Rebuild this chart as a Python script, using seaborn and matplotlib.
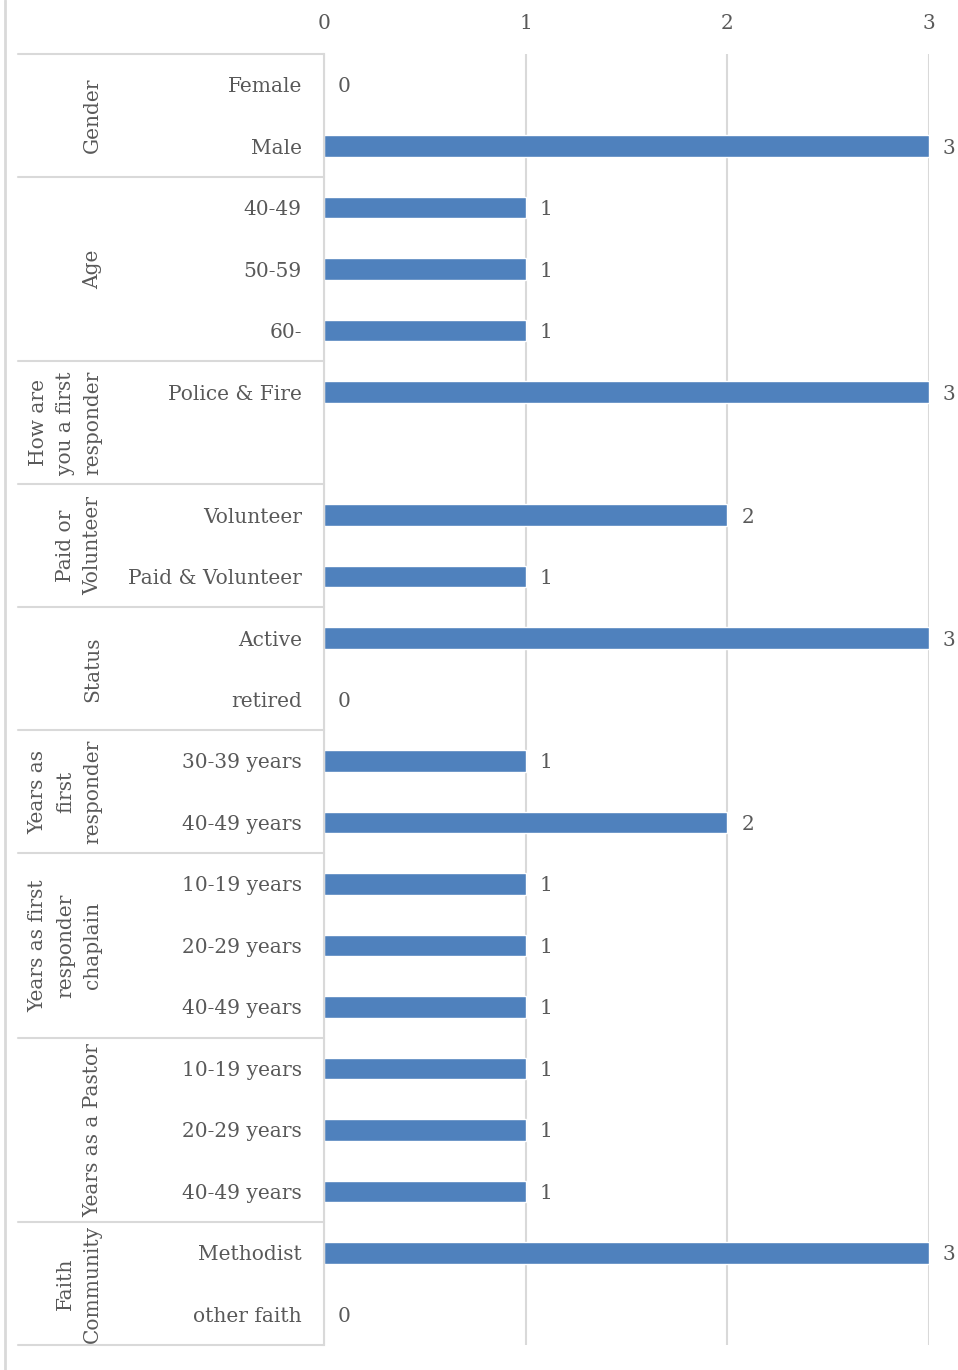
import matplotlib
matplotlib.use("Agg")
import matplotlib.pyplot as plt
from matplotlib.lines import Line2D
import seaborn as sns
import pandas as pd

# Survey profile of respondents
groups = ["Gender", "Age", "How are\nyou a first\nresponder", "Paid or\nVolunteer",
          "Status", "Years as\nfirst\nresponder", "Years as first\nresponder\nchaplain",
          "Years as a Pastor", "Faith\nCommunity"]
group_sizes = [2, 3, 2, 2, 2, 2, 3, 3, 2]
categories = ["Female", "Male", "40-49", "50-59", "60-", "Police & Fire", "",
              "Volunteer", "Paid & Volunteer", "Active", "retired",
              "30-39 years", "40-49 years", "10-19 years", "20-29 years", "40-49 years",
              "10-19 years", "20-29 years", "40-49 years", "Methodist", "other faith"]
counts = [0, 3, 1, 1, 1, 3, None, 2, 1, 3, 0, 1, 2, 1, 1, 1, 1, 1, 1, 3, 0]
x_ticks = [0, 1, 2, 3]

TEXT = "#595959"
GRID = "#D9D9D9"
BAR = "#4F81BD"
FS = 14.5

sns.set_theme(style="white")
plt.rcParams["font.family"] = ["DejaVu Serif"]
plt.rcParams["text.color"] = TEXT

W, H = 958, 1370
fig = plt.figure(figsize=(W / 100, H / 100), dpi=100)
x0, x1, y0, y1 = 324, 929, 54, 1345
ax = fig.add_axes([x0 / W, 1 - y1 / H, (x1 - x0) / W, (y1 - y0) / H])

rows = list(range(len(categories)))
df = pd.DataFrame({"row": rows, "count": counts}).dropna()
sns.barplot(data=df, x="count", y="row", order=rows, orient="h", color=BAR,
            saturation=1, width=0.35, errorbar=None, ax=ax)

ax.set_xlim(0, 3)
ax.set_ylim(len(categories) - 0.5, -0.5)
ax.set_xticks(x_ticks)
ax.set_xticklabels([str(t) for t in x_ticks])
ax.xaxis.tick_top()
ax.tick_params(axis="x", length=0, pad=15, labelsize=FS, labelcolor=TEXT)
ax.set_yticks(rows)
ax.set_yticklabels(categories)
ax.tick_params(axis="y", length=0, pad=16, labelsize=FS, labelcolor=TEXT)
ax.set_xlabel("")
ax.set_ylabel("")

ax.grid(axis="x", color=GRID, linewidth=1.5)
ax.set_axisbelow(True)
for s in ["top", "right", "bottom"]:
    ax.spines[s].set_visible(False)
ax.spines["left"].set_color(GRID)
ax.spines["left"].set_linewidth(1.5)

# value labels at the end of each bar
for cont in ax.containers:
    texts = ax.bar_label(cont, fmt="%g", padding=10, fontsize=FS, color=TEXT)
    for t in texts:
        t.set_va("center_baseline")

# group separators and rotated group titles
ytr = ax.get_yaxis_transform()
left_ax = (18 - x0) / (x1 - x0)
title_ax = (102 - x0) / (x1 - x0)
start = 0
bounds = [-0.5]
for g, n in zip(groups, group_sizes):
    end = start + n
    bounds.append(end - 0.5)
    ax.text(title_ax, (start + end - 1) / 2, g, transform=ytr, rotation=90,
            ha="right", va="center", multialignment="center",
            fontsize=FS, color=TEXT, linespacing=1.55, clip_on=False)
    start = end
for b in bounds:
    ax.add_line(Line2D([left_ax, 0], [b, b], transform=ytr, color=GRID,
                       linewidth=1.5, clip_on=False))

# outer left frame edge
fig.add_artist(Line2D([5 / W, 5 / W], [0, 1], transform=fig.transFigure,
                      color=GRID, linewidth=2))

fig.savefig("out.png", dpi=100)
